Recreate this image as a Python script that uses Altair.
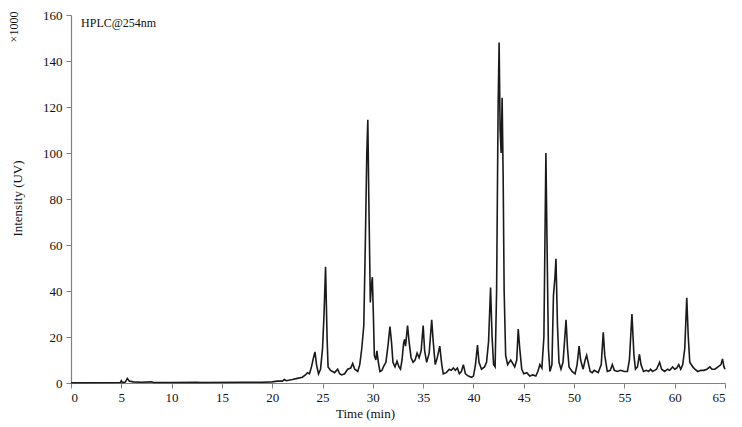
import altair as alt
import pandas as pd

time_min = [
    0.0, 4.9, 5.0, 5.1, 5.4, 5.6, 5.8, 6.2, 7.0, 8.0, 8.2, 10.0, 12.5, 13.0, 17.0, 19.0,
    20.0, 20.5, 21.0, 21.2, 21.4, 22.0, 22.5, 23.0, 23.3, 23.5, 23.7, 23.9, 24.1, 24.25,
    24.4, 24.6, 24.8, 25.0, 25.15, 25.3, 25.45, 25.55, 25.8, 26.0, 26.2, 26.5, 26.7, 26.9,
    27.2, 27.5, 27.8, 28.0, 28.2, 28.5, 28.7, 28.9, 29.1, 29.25, 29.4, 29.5, 29.6, 29.75,
    29.85, 29.95, 30.05, 30.15, 30.3, 30.4, 30.55, 30.7, 30.9, 31.1, 31.3, 31.5, 31.7,
    31.85, 32.0, 32.2, 32.4, 32.6, 32.75, 32.9, 33.05, 33.15, 33.25, 33.45, 33.6, 33.8,
    34.0, 34.2, 34.4, 34.6, 34.8, 35.0, 35.15, 35.35, 35.6, 35.85, 36.0, 36.2, 36.4,
    36.65, 36.85, 37.0, 37.3, 37.6, 37.8, 38.0, 38.2, 38.4, 38.6, 38.8, 39.0, 39.2, 39.5,
    39.8, 40.0, 40.2, 40.4, 40.55, 40.8, 41.1, 41.3, 41.5, 41.7, 41.85, 42.0, 42.15, 42.3,
    42.45, 42.55, 42.65, 42.75, 42.85, 42.95, 43.05, 43.2, 43.4, 43.7, 43.9, 44.1, 44.3,
    44.45, 44.6, 44.8, 45.0, 45.3, 45.6, 45.9, 46.2, 46.4, 46.6, 46.8, 47.0, 47.1, 47.2,
    47.3, 47.45, 47.6, 47.8, 47.95, 48.1, 48.2, 48.35, 48.5, 48.7, 48.9, 49.05, 49.2,
    49.35, 49.5, 49.8, 50.1, 50.3, 50.5, 50.65, 50.9, 51.1, 51.25, 51.45, 51.6, 51.8,
    52.0, 52.2, 52.4, 52.7, 52.9, 53.05, 53.3, 53.6, 53.8, 54.0, 54.3, 54.6, 55.0, 55.3,
    55.5, 55.75, 55.95, 56.1, 56.3, 56.5, 56.65, 56.9, 57.2, 57.4, 57.6, 57.8, 58.0, 58.2,
    58.5, 58.7, 59.0, 59.3, 59.5, 59.8, 60.0, 60.2, 60.4, 60.6, 60.8, 61.0, 61.2, 61.35,
    61.5, 61.8, 62.0, 62.3, 62.6, 62.9, 63.2, 63.5, 63.7, 64.0, 64.3, 64.6, 64.75, 64.9,
    65.0,
]
intensity = [
    0.1, 0.2, 1.0, 0.2, 0.4, 2.0, 0.8, 0.5, 0.3, 0.5, 0.2, 0.2, 0.3, 0.2, 0.3, 0.3,
    0.5, 0.8, 0.8, 1.5, 1.0, 1.5, 2.0, 2.5, 3.5, 4.5, 4.0, 7.0, 11.0, 13.5,
    8.0, 4.0, 6.0, 15.0, 30.0, 50.5, 20.0, 7.0, 5.5, 5.0, 4.5, 6.0, 4.0, 3.5,
    4.0, 6.0, 6.5, 8.5, 6.0, 5.0, 8.0, 15.0, 25.0, 60.0, 100.0, 114.5, 80.0, 35.0,
    42.0, 46.0, 30.0, 12.0, 10.0, 14.0, 9.0, 5.0, 5.5, 7.5, 9.0, 16.0, 24.5,
    18.0, 9.0, 7.0, 9.5, 7.0, 6.0, 10.0, 17.0, 19.0, 16.0, 25.0, 18.0, 11.0,
    9.0, 10.0, 13.0, 11.0, 14.0, 25.0, 14.0, 9.0, 13.0, 27.5, 18.0, 8.0, 11.0,
    16.0, 8.0, 4.0, 4.5, 6.0, 5.5, 6.5, 5.5, 6.5, 4.0, 5.0, 8.0, 4.0, 3.0,
    2.5, 3.0, 8.0, 16.5, 9.0, 6.0, 7.0, 9.0, 18.0, 41.5, 20.0, 8.0, 7.0, 40.0,
    120.0, 148.0, 110.0, 100.0, 124.0, 90.0, 40.0, 12.0, 8.0, 10.0, 8.5, 7.0, 10.0,
    23.5, 15.0, 6.0, 4.0, 4.5, 3.0, 3.5, 3.0, 5.0, 8.0, 6.5, 20.0, 60.0, 100.0,
    65.0, 15.0, 5.0, 8.0, 38.0, 46.0, 54.0, 25.0, 9.0, 6.0, 9.0, 18.0, 27.5,
    15.0, 7.0, 5.0, 4.0, 8.0, 16.0, 10.0, 6.0, 10.0, 12.0, 8.0, 5.0, 4.5,
    5.5, 5.0, 4.5, 8.0, 22.0, 12.0, 5.0, 5.5, 8.0, 5.5, 5.0, 5.5, 5.0, 5.0,
    10.0, 30.0, 12.0, 6.0, 7.0, 12.5, 8.0, 5.0, 5.5, 5.0, 6.0, 5.0, 5.5, 6.0,
    9.0, 6.0, 5.0, 6.0, 5.5, 7.0, 6.0, 6.5, 8.0, 6.0, 8.0, 15.0, 37.0, 20.0,
    9.0, 7.0, 6.0, 5.0, 5.5, 5.5, 6.0, 7.0, 6.0, 6.0, 7.0, 8.0, 10.5, 7.0,
    6.0,
]
x_ticks = list(range(0, 66, 5))
y_ticks = list(range(0, 161, 20))

df = pd.DataFrame({"t": time_min, "v": intensity})

FONT = "Liberation Serif"

base = alt.Chart(df)

line = base.mark_line(color="#1a1a1a", strokeWidth=1.6, interpolate="linear").encode(
    x=alt.X(
        "t:Q",
        scale=alt.Scale(domain=[0, 65], nice=False, zero=False),
        axis=alt.Axis(
            values=x_ticks, title="Time (min)", grid=False, tickSize=5,
            labelPadding=3, titleX=294, titleY=24, titleBaseline="top",
            titleAnchor="start", titleAlign="center",
        ),
    ),
    y=alt.Y(
        "v:Q",
        scale=alt.Scale(domain=[0, 160], nice=False),
        axis=alt.Axis(
            values=y_ticks, title="Intensity (UV)", grid=False, tickSize=5,
            labelPadding=4, titleX=-54, titleY=183, titleBaseline="middle",
            titleAlign="center", titleAngle=270,
        ),
    ),
)

label_df = pd.DataFrame({"t": [1.0], "v": [156.5], "txt": ["HPLC@254nm"]})
hplc = alt.Chart(label_df).mark_text(
    align="left", baseline="middle", font=FONT, fontSize=12, color="#111"
).encode(x="t:Q", y="v:Q", text="txt:N")

mult = alt.Chart(pd.DataFrame({"txt": ["×1000"]})).mark_text(
    align="center", baseline="middle", font=FONT, fontSize=12, angle=270, color="#111"
).encode(x=alt.value(-57), y=alt.value(12), text="txt:N")

chart = (
    alt.layer(line, hplc, mult)
    .properties(
        width=654, height=368,
        autosize=alt.AutoSizeParams(type="none"),
        padding={"left": 63, "top": 7, "right": 8, "bottom": 40},
    )
    .configure_view(stroke=None)
    .configure_axis(
        domainColor="#808080", tickColor="#808080", domainWidth=1.2,
        labelFont=FONT, labelFontSize=13, labelColor="#111",
        titleFont=FONT, titleFontSize=13, titleFontWeight="normal", titleColor="#111",
    )
)

chart.save("out.html", embed_options={"renderer": "svg", "actions": False})
